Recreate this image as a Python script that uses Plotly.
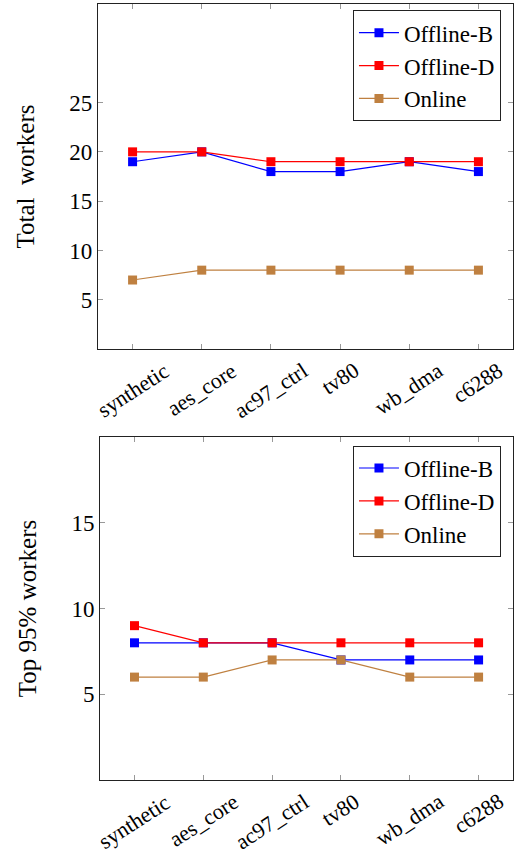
import plotly.graph_objects as go

categories = ["synthetic", "aes_core", "ac97_ctrl", "tv80", "wb_dma", "c6288"]

total_offline_b = [19, 20, 18, 18, 19, 18]
total_offline_d = [20, 20, 19, 19, 19, 19]
total_online = [7, 8, 8, 8, 8, 8]

top95_offline_b = [8, 8, 8, 7, 7, 7]
top95_offline_d = [9, 8, 8, 8, 8, 8]
top95_online = [6, 6, 7, 7, 6, 6]

series_names = ["Offline-B", "Offline-D", "Online"]
series_colors = ["#0000ff", "#ff0000", "#bf8040"]

top_ticks = [5, 10, 15, 20, 25]
bottom_ticks = [5, 10, 15]

FONT = "Liberation Serif, Times New Roman, serif"

fig = go.Figure()

xs = list(range(len(categories)))
for name, color, vals in zip(series_names, series_colors,
                             [total_offline_b, total_offline_d, total_online]):
    fig.add_trace(go.Scatter(
        x=xs, y=vals, name=name, mode="lines+markers",
        line=dict(color=color, width=1.2),
        marker=dict(symbol="square", size=9, color=color),
        xaxis="x", yaxis="y", legend="legend"))

for name, color, vals in zip(series_names, series_colors,
                             [top95_offline_b, top95_offline_d, top95_online]):
    fig.add_trace(go.Scatter(
        x=xs, y=vals, name=name, mode="lines+markers",
        line=dict(color=color, width=1.2),
        marker=dict(symbol="square", size=9, color=color),
        xaxis="x2", yaxis="y2", legend="legend2"))

axis_common = dict(
    showline=True, linecolor="#222", linewidth=1.2, mirror="ticks",
    ticks="inside", ticklen=5, tickcolor="#999", tickwidth=1,
    showgrid=False, zeroline=False, automargin=False,
)

xaxis_common = dict(
    axis_common, tickmode="array", tickvals=xs, showticklabels=False,
    range=[-0.5, 5.5],
)

yfont = dict(family=FONT, size=23, color="black")
tfont = dict(family=FONT, size=25, color="black")

legend_common = dict(
    bgcolor="white", bordercolor="#222", borderwidth=1,
    font=dict(family=FONT, size=23, color="black"),
    xanchor="right", yanchor="top", tracegroupgap=0,
    itemwidth=40,
)

TOP_DOM = [0.5554, 1]
BOT_DOM = [0, 0.442]

fig.update_layout(
    width=516, height=854,
    margin=dict(l=98, r=3, t=4, b=74),
    paper_bgcolor="white", plot_bgcolor="white",
    showlegend=True,
    xaxis=dict(xaxis_common, domain=[0, 1], anchor="y"),
    yaxis=dict(axis_common, domain=TOP_DOM, anchor="x", range=[0, 35],
               tickvals=top_ticks, tickfont=yfont,
               title=dict(text="Total\u00a0\u00a0workers", standoff=27, font=tfont)),
    xaxis2=dict(xaxis_common, domain=[0.005, 1], anchor="y2"),
    yaxis2=dict(axis_common, domain=BOT_DOM, anchor="x2", range=[0, 20],
                tickvals=bottom_ticks, tickfont=yfont,
                title=dict(text="Top 95% workers", standoff=27, font=tfont)),
    legend=dict(legend_common, x=0.971, y=0.992),
    legend2=dict(legend_common, x=0.971, y=0.431),
)

# rotated category labels, centered under each tick (pgfplots style)
for xref, ybase in [("x", TOP_DOM[0]), ("x2", BOT_DOM[0])]:
    for i, cat in enumerate(categories):
        fig.add_annotation(
            x=i, xref=xref, y=ybase, yref="paper",
            text=cat, showarrow=False, textangle=-33,
            xanchor="center", yanchor="top", yshift=-6,
            font=dict(family=FONT, size=22, color="black"))

fig.write_html("out.html",
               config={"displayModeBar": False},
               post_script="document.body.style.margin='0';document.body.style.overflow='hidden';")
